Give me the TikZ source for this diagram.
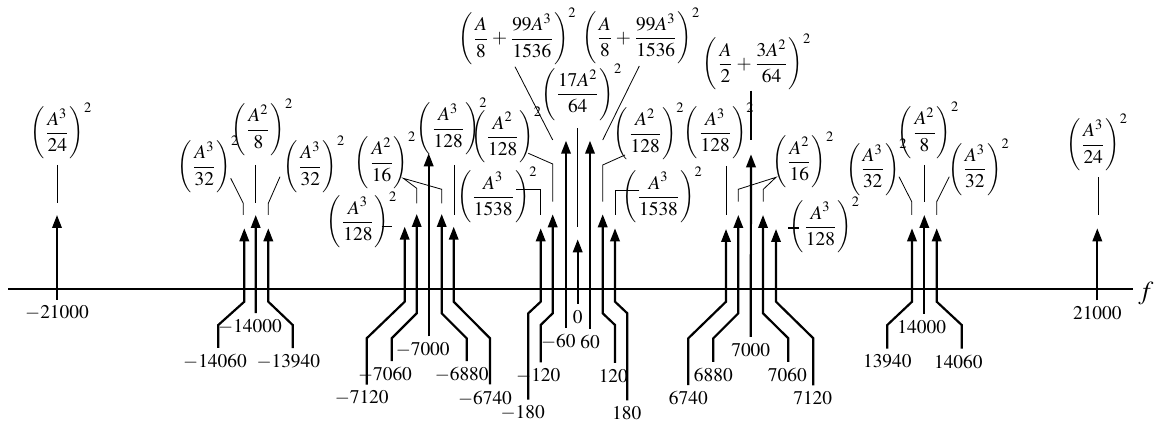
\documentclass[tikz,border=0pt]{standalone}
\usepackage{mathptmx}
\usepackage{graphicx}
\usetikzlibrary{arrows.meta}
\newcommand\tallparen[1]{\scalebox{1}[1.12]{$\bigg#1$}}
\newcommand\sqamp[1]{$\displaystyle\tallparen{(}{#1}\tallparen{)}^{2}$}

\begin{document}
\begin{tikzpicture}
[
    x=0.5pt, y=-0.5pt,
    font=\fontsize{9.7}{11.6}\selectfont,
    imp/.style={line width=1.1pt, -{Triangle[length=6.5pt,width=4.7pt]}},
    lead/.style={line width=0.4pt},
    amp/.style={inner sep=0pt},
    flab/.style={inner sep=3pt},
]
\useasboundingbox (0,0) rectangle (1165,426);

% frequency axis
\node (faxis) at (1146,293) {\fontsize{13}{14}\selectfont$f$};
\draw[line width=1pt] (8,289) -- (1133,289);

% amplitudes
\node[amp] (a1) at (61.5,131) {\sqamp{\frac{A^{3}}{24}}};
\node[amp] (a2) at (208.5,164.5) {\sqamp{\frac{A^{3}}{32}}};
\node[amp] (a3) at (262.5,127.3) {\sqamp{\frac{A^{2}}{8}}};
\node[amp] (a4) at (314.5,164.5) {\sqamp{\frac{A^{3}}{32}}};
\node[amp] (a5) at (362,219.7) {\sqamp{\frac{A^{3}}{128}}};
\node[amp] (a6) at (385.6,160.5) {\sqamp{\frac{A^{2}}{16}}};
\node[amp] (a7) at (452.3,126.3) {\sqamp{\frac{A^{3}}{128}}};
\node[amp] (a8) at (506.8,134.7) {\sqamp{\frac{A^{2}}{128}}};
\node[amp] (a9) at (497.3,194.7) {\sqamp{\frac{A^{3}}{1538}}};
\node[amp] (a10) at (517.5,36.5) {\sqamp{\frac{A}{8}+\frac{99A^{3}}{1536}}};
\node[amp] (a11) at (581.8,92.2) {\sqamp{\frac{17A^{2}}{64}}};
\node[amp] (a12) at (641.3,36) {\sqamp{\frac{A}{8}+\frac{99A^{3}}{1536}}};
\node[amp] (a13) at (649.3,131.3) {\sqamp{\frac{A^{2}}{128}}};
\node[amp] (a14) at (662.6,194.7) {\sqamp{\frac{A^{3}}{1538}}};
\node[amp] (a15) at (757.1,61.8) {\sqamp{\frac{A}{2}+\frac{3A^{2}}{64}}};
\node[amp] (a16) at (719.3,131) {\sqamp{\frac{A^{3}}{128}}};
\node[amp] (a17) at (803.5,159.7) {\sqamp{\frac{A^{2}}{16}}};
\node[amp] (a18) at (824.6,224.7) {\sqamp{\frac{A^{3}}{128}}};
\node[amp] (a19) at (876.8,167.2) {\sqamp{\frac{A^{3}}{32}}};
\node[amp] (a20) at (928.6,130.5) {\sqamp{\frac{A^{2}}{8}}};
\node[amp] (a21) at (979,167.2) {\sqamp{\frac{A^{3}}{32}}};
\node[amp] (a22) at (1097.3,142.5) {\sqamp{\frac{A^{3}}{24}}};

% leaders
\draw[lead] (57,165) -- (57,202.7);
\draw[lead] (230.7,178.3) -- (243.3,203.3) -- (243.3,215);
\draw[lead] (255.7,165) -- (255.7,202.7);
\draw[lead] (280,176.7) -- (268.3,203.3) -- (268.3,215);
\draw[line width=0.8pt] (381.7,226.7) -- (391.7,226.7);
\draw[lead] (416.7,203.3) -- (416.7,188.3) -- (403.3,178.3) -- (441.7,189.3) -- (441.7,203.3);
\draw[lead] (454,165) -- (454,215);
\draw[lead] (528.3,153.3) -- (552.7,164) -- (552.7,201.7);
\draw[lead] (516,189.3) -- (540.7,189.3) -- (540.7,215);
\draw[lead] (515,66.7) -- (552.7,140);
\draw[lead] (577.7,128.3) -- (577.7,226.7);
\draw[lead] (639.3,66) -- (602.7,140);
\draw[lead] (625,155) -- (602.7,165) -- (602.7,201.7);
\draw[lead] (639.3,190) -- (615,190) -- (615,215);
\draw[line width=0.8pt] (751,90.7) -- (751,140);
\draw[lead] (726,166) -- (726,215);
\draw[lead] (738.3,201.7) -- (738.3,189.3) -- (776,177.3) -- (763.3,189.3) -- (763.3,201.7);
\draw[line width=0.8pt] (788.3,228.3) -- (799.3,228.3);
\draw[lead] (899,176.7) -- (911.7,201.7) -- (911.7,215);
\draw[lead] (924.3,165) -- (924.3,201.7);
\draw[lead] (949.3,176.7) -- (936.7,201.7) -- (936.7,215);
\draw[lead] (1098,177.3) -- (1098,215);

% frequencies
\node[flab] (m21000) at (57,313.3) {$-21000$};
\node[flab] (m14060) at (215,361.7) {$-14060$};
\node[flab] (m14000) at (250,326.7) {$-14000$};
\node[flab] (m13940) at (288.3,361.7) {$-13940$};
\node[flab] (m7120) at (361.7,398.3) {$-7120$};
\node[flab] (m7060) at (385,375) {$-7060$};
\node[flab] (m7000) at (422.7,350) {$-7000$};
\node[flab] (m6880) at (461.7,375) {$-6880$};
\node[flab] (m6740) at (485,398.3) {$-6740$};
\node[flab] (m180) at (522.7,413.3) {$-180$};
\node[flab] (m120) at (538.3,376) {$-120$};
\node[flab] (m60) at (558.3,341.7) {$-60$};
\node[flab] (p0) at (577.7,316.7) {$0$};
\node[flab] (p60) at (590,341.7) {$60$};
\node[flab] (p120) at (613.3,376) {$120$};
\node[flab] (p180) at (626.7,413.3) {$180$};
\node[flab] (p6740) at (688.3,398.3) {$6740$};
\node[flab] (p6880) at (713.3,375) {$6880$};
\node[flab] (p7000) at (750.7,350) {$7000$};
\node[flab] (p7060) at (787.3,375) {$7060$};
\node[flab] (p7120) at (812.7,398.3) {$7120$};
\node[flab] (p13940) at (887.3,361.7) {$13940$};
\node[flab] (p14000) at (921.7,326.7) {$14000$};
\node[flab] (p14060) at (958.3,361.7) {$14060$};
\node[flab] (p21000) at (1097.3,313.3) {$21000$};

% spectral lines
\draw[imp] (m21000.north) -- (57,215);
\draw[imp] ([xshift=1.65pt]m14060.north) -- (218.3,325) -- (244.3,301.7) -- (244.3,228.3);
\draw[imp] ([xshift=2.85pt]m14000.north) -- (255.7,215);
\draw[imp] ([xshift=2.2pt]m13940.north) -- (292.7,325) -- (268.3,301.7) -- (268.3,228.3);
\draw[imp] ([xshift=2.5pt]m7120.north) -- (366.7,338.3) -- (404.7,301.7) -- (404.7,226.7);
\draw[imp] ([xshift=3.35pt]m7060.north) -- (391.7,338.3) -- (416.7,313.3) -- (416.7,214);
\draw[imp] ([xshift=3pt]m7000.north) -- (428.7,153.3);
\draw[imp] ([xshift=2.5pt]m6880.north) -- (466.7,338.3) -- (441.7,313.3) -- (441.7,214);
\draw[imp] ([xshift=2.5pt]m6740.north) -- (490,338.3) -- (453.7,301.7) -- (453.7,226.7);
\draw[imp] ([xshift=2.8pt]m180.north) -- (528.3,313.3) -- (540.7,301.7) -- (540.7,228.3);
\draw[imp] ([xshift=1.2pt]m120.north) -- (540.7,325) -- (552.7,313.3) -- (552.7,214.3);
\draw[imp] ([xshift=3.85pt]m60.north) -- (566,140.7);
\draw[imp] (p0.north) -- (577.7,239.3);
\draw[imp] (p60.north) -- (590,140.7);
\draw[imp] ([xshift=0.85pt]p120.north) -- (615,325) -- (602.7,313.3) -- (602.7,214.3);
\draw[imp] ([xshift=0.3pt]p180.north) -- (627.3,313.3) -- (615,301.7) -- (615,228.3);
\draw[imp] (p6740.north) -- (688.3,338.3) -- (726,301.7) -- (726,229);
\draw[imp] (p6880.north) -- (713.3,338.3) -- (738.3,313.3) -- (738.3,215);
\draw[imp] (p7000.north) -- (751,154.3);
\draw[imp] ([xshift=0.5pt]p7060.north) -- (788.3,338.3) -- (763,313.3) -- (763,215);
\draw[imp] ([xshift=0.3pt]p7120.north) -- (813.3,338.3) -- (776,301.7) -- (776,229);
\draw[imp] (p13940.north) -- (887.3,325) -- (912,301.7) -- (912,228.3);
\draw[imp] ([xshift=1.3pt]p14000.north) -- (924.3,215);
\draw[imp] ([xshift=1.7pt]p14060.north) -- (961.7,325) -- (936.7,301.7) -- (936.7,228.3);
\draw[imp] (p21000.north) -- (1097.3,228.3);
\end{tikzpicture}
\end{document}
